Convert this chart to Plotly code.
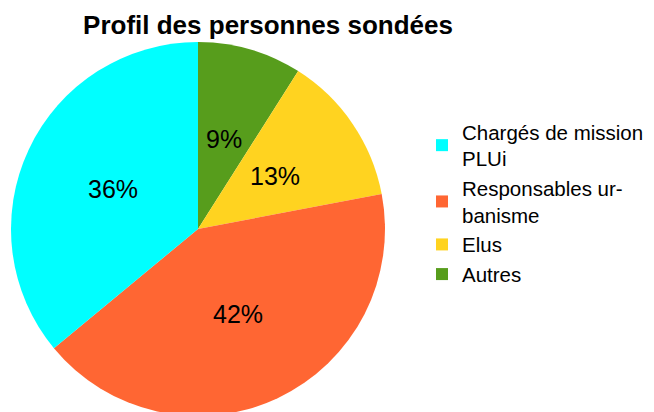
import math
import plotly.graph_objects as go

categories = ["Chargés de mission<br>PLUi", "Responsables ur-<br>banisme", "Elus", "Autres"]
values = [36, 42, 13, 9]
colors = ["#00ffff", "#ff6633", "#ffd320", "#579d1c"]
title_text = "Profil des personnes sondées"

W, H = 654, 412
OFF = 8  # page body margin shifts the figure by this many pixels

# pie geometry (screen pixels)
left, right, top, bottom = 11, 385, 42, 416
cx = (left + right) / 2 - OFF
cy = (top + bottom) / 2 - OFF
R = (right - left) / 2

# slices drawn clockwise from 12 o'clock in reverse order (Autres first),
# legend reversed so it reads in the original order
fig = go.Figure(go.Pie(
    labels=categories[::-1],
    values=values[::-1],
    sort=False,
    direction="clockwise",
    rotation=0,
    marker=dict(colors=colors[::-1], line=dict(width=0)),
    textinfo="none",
    domain=dict(x=[(left - OFF) / W, (right - OFF) / W],
                y=[(H - (bottom - OFF)) / H, (H - (top - OFF)) / H]),
    hoverinfo="skip",
))

# percentage labels at half radius, on each slice's mid-angle
total = sum(values)
cum = 0
for v in values:
    ang = math.radians(90 + (cum + v / 2) / total * 360)
    cum += v
    px = cx + 0.5 * R * math.cos(ang)
    py = cy - 0.5 * R * math.sin(ang)
    fig.add_annotation(
        x=px / W, y=(H - py) / H, xref="paper", yref="paper",
        text=f"{round(v / total * 100)}%", showarrow=False,
        xanchor="center", yanchor="middle",
        font=dict(family="Liberation Sans", size=25, color="black"),
    )

fig.update_layout(
    width=W, height=H,
    margin=dict(l=0, r=0, t=0, b=0),
    paper_bgcolor="white",
    plot_bgcolor="white",
    title=dict(
        text=title_text,
        font=dict(family="Liberation Sans", size=26, color="black", weight="bold"),
        x=(268 - OFF) / W, xanchor="center",
        y=(H - (25 - OFF)) / H, yanchor="middle",
    ),
    legend=dict(
        x=(422 - OFF) / W, xanchor="left",
        y=(H - (112 - OFF)) / H, yanchor="top",
        font=dict(family="Liberation Sans", size=20.5, color="black"),
        bgcolor="rgba(0,0,0,0)",
        traceorder="reversed",
    ),
    showlegend=True,
)

fig.write_html("out.html")
